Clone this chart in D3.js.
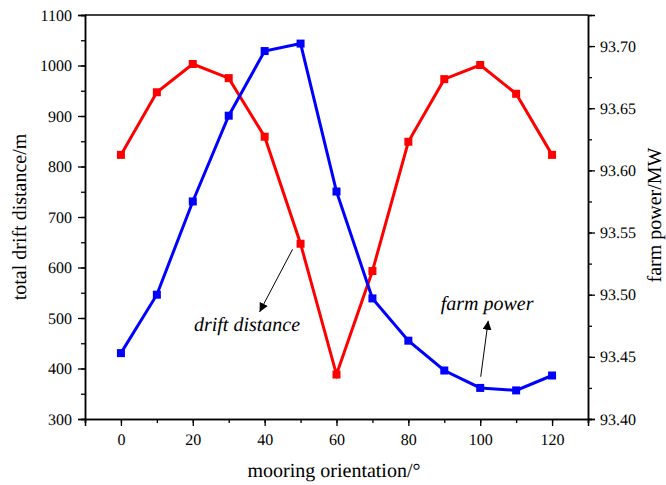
<!DOCTYPE html>
<html>
<head>
<meta charset="utf-8">
<script src="https://cdn.jsdelivr.net/npm/d3@7"></script>
<style>
  body { margin: 0; background: #fff; }
  svg text { text-rendering: geometricPrecision; }
</style>
</head>
<body>
<div id="chart"></div>
<script>
// mooring orientation (deg)
const orientation = [0, 10, 20, 30, 40, 50, 60, 70, 80, 90, 100, 110, 120];
// total drift distance (m), left axis
const driftDistance = [823, 947, 1003, 975, 859, 647, 388, 593, 849, 973, 1001, 944, 823];
// farm power (MW), right axis
const farmPower = [93.453, 93.500, 93.575, 93.644, 93.696, 93.702, 93.583, 93.497, 93.463, 93.439, 93.425, 93.423, 93.435];

const xTicks = [0, 20, 40, 60, 80, 100, 120];
const leftTicks = [300, 400, 500, 600, 700, 800, 900, 1000, 1100];
const rightTicks = [93.40, 93.45, 93.50, 93.55, 93.60, 93.65, 93.70];

const serif = '"Liberation Serif", "Times New Roman", serif';
const width = 666, height = 485;
const margin = { top: 15, right: 78, bottom: 66, left: 85 };
const w = width - margin.left - margin.right;
const h = height - margin.top - margin.bottom;

const svg = d3.select('#chart').append('svg')
  .attr('width', width)
  .attr('height', height)
  .attr('font-family', serif);

const g = svg.append('g')
  .attr('transform', 'translate(' + margin.left + ',' + margin.top + ')');

const x = d3.scaleLinear().domain([-10, 130]).range([0, w]);
const yL = d3.scaleLinear().domain([300, 1100]).range([h, 0]);
const yR = d3.scaleLinear().domain([93.40, 93.725]).range([h, 0]);

function styleAxis(sel) {
  sel.attr('font-family', serif).attr('font-size', 16);
  sel.select('.domain').attr('stroke', '#000').attr('stroke-width', 1.5);
  sel.selectAll('.tick line').attr('stroke', '#000').attr('stroke-width', 1.3);
  sel.selectAll('.tick text').attr('fill', '#000');
}

// minor ticks
g.append('g')
  .attr('transform', 'translate(0,' + h + ')')
  .call(d3.axisBottom(x).tickValues(d3.range(-10, 131, 10)).tickSize(4).tickFormat(''))
  .call(styleAxis);
g.append('g')
  .call(d3.axisLeft(yL).tickValues(d3.range(300, 1101, 50)).tickSize(4).tickFormat(''))
  .call(styleAxis);
g.append('g')
  .attr('transform', 'translate(' + w + ',0)')
  .call(d3.axisRight(yR).tickValues(d3.range(0, 13).map(i => 93.40 + i * 0.025)).tickSize(4).tickFormat(''))
  .call(styleAxis);

// major ticks
g.append('g')
  .attr('transform', 'translate(0,' + h + ')')
  .call(d3.axisBottom(x).tickValues(xTicks).tickSize(7).tickPadding(8).tickFormat(d3.format('d')))
  .call(styleAxis);
g.append('g')
  .call(d3.axisLeft(yL).tickValues(leftTicks).tickSize(7).tickPadding(6).tickFormat(d3.format('d')))
  .call(styleAxis);
g.append('g')
  .attr('transform', 'translate(' + w + ',0)')
  .call(d3.axisRight(yR).tickValues(rightTicks).tickSize(7).tickPadding(5).tickFormat(d3.format('.2f')))
  .call(styleAxis);

// top frame line
g.append('line')
  .attr('x1', 0).attr('x2', w).attr('y1', 0).attr('y2', 0)
  .attr('stroke', '#000').attr('stroke-width', 1.5);

// series
function drawSeries(values, y, color) {
  const pts = orientation.map((o, i) => [o, values[i]]);
  g.append('path')
    .datum(pts)
    .attr('fill', 'none')
    .attr('stroke', color)
    .attr('stroke-width', 3)
    .attr('d', d3.line().x(d => x(d[0])).y(d => y(d[1])));
  g.append('g')
    .selectAll('rect')
    .data(pts)
    .join('rect')
    .attr('x', d => x(d[0]) - 4)
    .attr('y', d => y(d[1]) - 4)
    .attr('width', 8)
    .attr('height', 8)
    .attr('fill', color);
}
drawSeries(driftDistance, yL, '#ff0000');
drawSeries(farmPower, yR, '#0000ff');

// annotations
svg.append('defs').append('marker')
  .attr('id', 'arrow')
  .attr('viewBox', '0 0 10 10')
  .attr('refX', 10).attr('refY', 5)
  .attr('markerWidth', 9).attr('markerHeight', 9)
  .attr('markerUnits', 'userSpaceOnUse')
  .attr('orient', 'auto')
  .append('path')
  .attr('d', 'M0,0 L10,5 L0,10 z')
  .attr('fill', '#000');

// arrow toward drift distance label
g.append('line')
  .attr('x1', x(50) - 8).attr('y1', yL(636))
  .attr('x2', x(50) - 41).attr('y2', yL(512))
  .attr('stroke', '#000').attr('stroke-width', 1)
  .attr('marker-end', 'url(#arrow)');
g.append('text')
  .attr('x', x(35.1)).attr('y', yL(474))
  .attr('text-anchor', 'middle')
  .attr('font-style', 'italic')
  .attr('font-size', 20)
  .text('drift distance');

// arrow toward farm power label
g.append('line')
  .attr('x1', x(100) + 0.5).attr('y1', yR(93.434))
  .attr('x2', x(100) + 8).attr('y2', yR(93.479))
  .attr('stroke', '#000').attr('stroke-width', 1)
  .attr('marker-end', 'url(#arrow)');
g.append('text')
  .attr('x', x(101.9)).attr('y', yR(93.488))
  .attr('text-anchor', 'middle')
  .attr('font-style', 'italic')
  .attr('font-size', 20)
  .text('farm power');

// axis titles
svg.append('text')
  .attr('x', 334)
  .attr('y', 477)
  .attr('text-anchor', 'middle')
  .attr('font-size', 20)
  .text('mooring orientation/\u00b0');

svg.append('text')
  .attr('transform', 'translate(26,' + (margin.top + h / 2) + ') rotate(-90)')
  .attr('text-anchor', 'middle')
  .attr('font-size', 20)
  .text('total drift distance/m');

svg.append('text')
  .attr('transform', 'translate(661,215) rotate(-90)')
  .attr('text-anchor', 'middle')
  .attr('font-size', 20)
  .text('farm power/MW');
</script>
</body>
</html>
